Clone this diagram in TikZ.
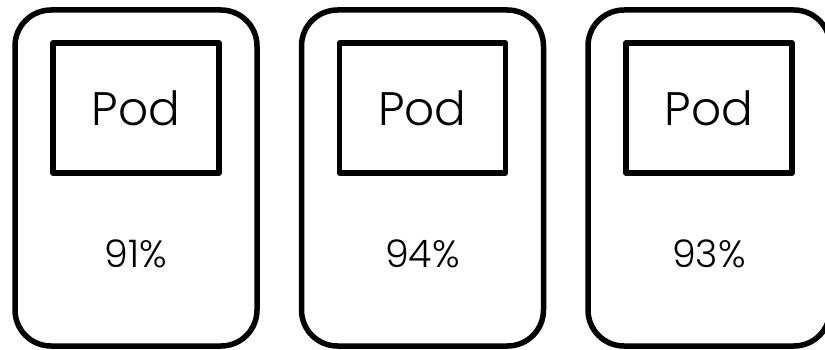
\documentclass[tikz,border=0pt]{standalone}
\usepackage{fontspec}
\setmainfont{Poppins}[UprightFont=* Light]
\tikzset{
  pool/.style={draw, line width=5.5pt, rounded corners=36pt, minimum width=242pt, minimum height=336pt},
  podbox/.style={draw, line width=5.5pt, line join=round, minimum width=166pt, minimum height=130pt, font=\fontsize{47}{50}\selectfont},
  usage/.style={font=\fontsize{38}{40}\selectfont}
}
\begin{document}
\begin{tikzpicture}[x=1pt,y=1pt]
  \useasboundingbox (0,0) rectangle (825,349);
  % one node per pod, with its load below
  \foreach \i/\x/\p in {1/136/91, 2/422.5/94, 3/709/93} {
    \node[pool] (node\i) at (\x,171) {};
    \node[podbox] (pod\i) at (\x,241) {Pod};
    \node[usage] (usage\i) at (\x,95) {\p\%};
  }
\end{tikzpicture}
\end{document}
